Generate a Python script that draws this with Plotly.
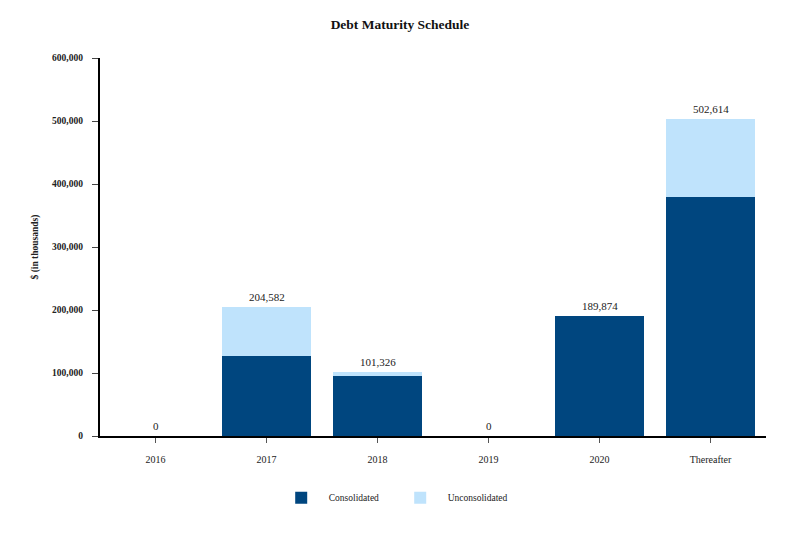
import plotly.graph_objects as go

# values ($ in thousands)
years = ["2016", "2017", "2018", "2019", "2020", "Thereafter"]
consolidated = [0, 126500, 95300, 0, 189874, 379800]
unconsolidated = [0, 78082, 6026, 0, 0, 122814]
totals = [0, 204582, 101326, 0, 189874, 502614]

DARK = "#00467f"
LIGHT = "#bfe3fc"
SERIF = "Liberation Serif, Times New Roman, serif"

fig = go.Figure()
fig.add_trace(go.Bar(x=years, y=consolidated, name="Consolidated",
                     marker=dict(color=DARK, line=dict(width=0))))
fig.add_trace(go.Bar(x=years, y=unconsolidated, name="Unconsolidated",
                     marker=dict(color=LIGHT, line=dict(width=0))))

# total labels above each stack (category index, since the year names look numeric)
for i, tot in enumerate(totals):
    fig.add_annotation(x=i, y=tot, text=f"{tot:,}", showarrow=False,
                       yanchor="bottom", yshift=2,
                       font=dict(family=SERIF, size=11, color="#222"))

fig.update_layout(
    barmode="stack",
    bargap=0.2,
    width=800, height=533,
    margin=dict(l=100, r=34, t=58, b=97),
    paper_bgcolor="white",
    plot_bgcolor="white",
    font=dict(family=SERIF, color="#222"),
    title=dict(text="<b>Debt Maturity Schedule</b>", x=0.5, xanchor="center",
               y=0.955, yanchor="middle", font=dict(size=13.5, color="#111")),
    legend=dict(orientation="h", x=0.4395, xanchor="center", y=-0.125, yanchor="top",
                font=dict(size=9.5, family=SERIF, color="#222"),
                itemwidth=45, entrywidth=59, traceorder="normal"),
)
fig.update_xaxes(type="category", range=[-0.5, len(years) - 0.5],
                 showline=True, linecolor="black", linewidth=2,
                 ticks="outside", ticklen=5, tickcolor="#555",
                 tickfont=dict(size=10, family=SERIF),
                 ticklabelstandoff=8, showgrid=False, automargin=False)
fig.update_yaxes(range=[0, 600000], dtick=100000, tickformat=",d",
                 showline=True, linecolor="black", linewidth=2, ticks="outside",
                 ticklen=6, tickcolor="#444", tickwidth=1.2, showgrid=False, zeroline=False,
                 tickfont=dict(size=9.5, family=SERIF), tickprefix="<b>",
                 ticksuffix="</b>\u00a0\u00a0\u00a0", automargin=False,
                 title=dict(text="<b>$ (in thousands)</b>", font=dict(size=9.5, family=SERIF),
                            standoff=12))

fig.write_html("out.html", config={"displayModeBar": False},
               post_script="document.body.style.margin='0';")
